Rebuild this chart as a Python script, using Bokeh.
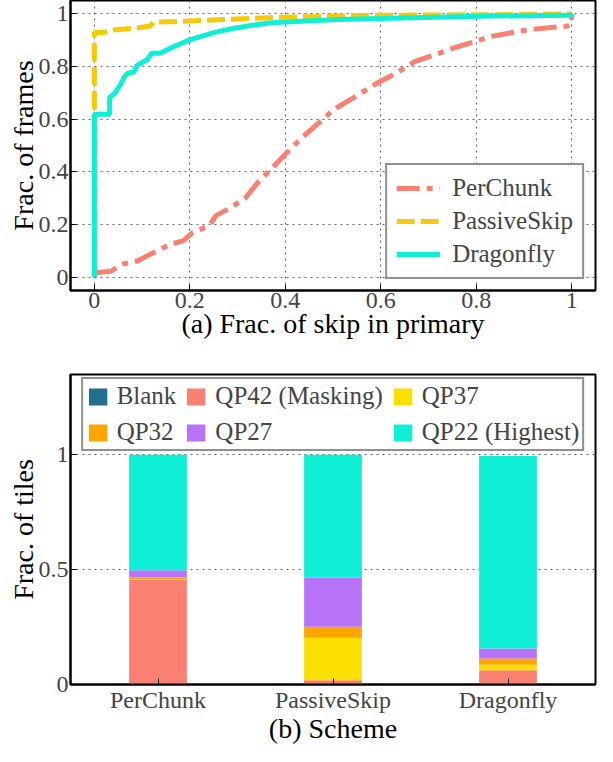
from bokeh.plotting import figure
from bokeh.models import Legend, LegendItem, FactorRange, Range1d, FixedTicker
from bokeh.layouts import column
from bokeh.embed import file_html
from bokeh.resources import INLINE

FONT = "Liberation Serif"

# ---- (a) CDF of fraction of skip in primary ----
perchunk_x = [0.0, 0.035, 0.056, 0.09, 0.117, 0.159, 0.186, 0.206, 0.241, 0.255, 0.282, 0.316,
              0.344, 0.365, 0.399, 0.431, 0.471, 0.503, 0.551, 0.591, 0.631, 0.671, 0.752,
              0.832, 0.912, 0.992, 1.0, 1.0]
perchunk_y = [0.017, 0.023, 0.049, 0.062, 0.087, 0.126, 0.138, 0.17, 0.196, 0.235, 0.26, 0.30,
              0.363, 0.401, 0.465, 0.523, 0.587, 0.638, 0.69, 0.735, 0.773, 0.818, 0.869,
              0.914, 0.94, 0.953, 0.96, 0.99]

passive_x = [0.0, 0.0, 0.021, 0.035, 0.09, 0.117, 0.124, 0.2, 0.365, 0.43, 0.59, 0.83, 1.0]
passive_y = [0.0, 0.929, 0.929, 0.937, 0.946, 0.953, 0.968, 0.972, 0.985, 0.988, 0.994, 0.996, 0.999]

dragon_x = [0.0, 0.0, 0.032, 0.032, 0.042, 0.056, 0.063, 0.069, 0.083, 0.09, 0.11, 0.12, 0.138,
            0.159, 0.2, 0.248, 0.296, 0.365, 0.4, 0.51, 0.67, 0.83, 1.0, 1.0]
dragon_y = [0.0, 0.619, 0.619, 0.683, 0.696, 0.735, 0.76, 0.773, 0.779, 0.805, 0.824, 0.85, 0.85,
            0.869, 0.901, 0.927, 0.946, 0.965, 0.968, 0.978, 0.985, 0.991, 0.994, 1.0]

cdf_ticks = [0, 0.2, 0.4, 0.6, 0.8, 1]
cdf_tick_labels = ["0", "0.2", "0.4", "0.6", "0.8", "1"]

# ---- (b) Stacked fraction of tiles ----
schemes = ["PerChunk", "PassiveSkip", "Dragonfly"]
levels = ["Blank", "QP42", "QP37", "QP32", "QP27", "QP22"]
level_labels = ["Blank", "QP42 (Masking)", "QP37", "QP32", "QP27", "QP22 (Highest)"]
blank = [0.0, 0.0, 0.0]
qp42 = [0.455, 0.019, 0.062]
qp37 = [0.004, 0.185, 0.024]
qp32 = [0.008, 0.047, 0.027]
qp27 = [0.030, 0.215, 0.044]
qp22 = [0.503, 0.534, 0.838]
level_colors = ["#226E8C", "#FA8072", "#F9E000", "#FFA500", "#B973F8", "#0FEFD6"]
bar_ticks = [0, 0.5, 1]
bar_tick_labels = ["0", "0.5", "1"]

TICK_SIZE = "24px"
LABEL_SIZE = "28px"
LEGEND_SIZE = "25px"


def style_axes(p):
    for ax in (p.xaxis[0], p.yaxis[0]):
        ax.major_label_text_font = FONT
        ax.major_label_text_font_size = TICK_SIZE
        ax.axis_label_text_font = FONT
        ax.axis_label_text_font_size = LABEL_SIZE
        ax.axis_label_text_font_style = "normal"
        ax.axis_label_text_color = "black"
        ax.axis_line_color = "black"
        ax.axis_line_width = 2
        ax.major_tick_in = 6
        ax.major_tick_out = 0
        ax.major_tick_line_color = "black"
        ax.minor_tick_line_color = None
        ax.major_label_standoff = 2
        ax.axis_label_standoff = -3
    p.outline_line_color = "black"
    p.outline_line_width = 2
    p.outline_line_alpha = 1.0


p1 = figure(width=597, height=346, x_range=Range1d(-0.05, 1.05), y_range=Range1d(-0.05, 1.05),
            output_backend="svg", toolbar_location=None,
            min_border_top=0, min_border_left=70, min_border_right=2, min_border_bottom=56)
style_axes(p1)
p1.xaxis.axis_label = "(a) Frac. of skip in primary"
p1.yaxis.axis_label = "Frac. of frames"
p1.xaxis.ticker = FixedTicker(ticks=cdf_ticks)
p1.yaxis.ticker = FixedTicker(ticks=cdf_ticks)
p1.xaxis.major_label_overrides = {t: l for t, l in zip(cdf_ticks, cdf_tick_labels)}
p1.yaxis.major_label_overrides = {t: l for t, l in zip(cdf_ticks, cdf_tick_labels)}
for g in (p1.xgrid[0], p1.ygrid[0]):
    g.grid_line_color = "#666666"
    g.grid_line_dash = "2 4"
    g.grid_line_width = 1

r_pc = p1.line(perchunk_x, perchunk_y, line_color="#FA8072", line_width=5, line_dash="23 7 6 7")
r_ps = p1.line(passive_x, passive_y, line_color="#F7C90A", line_width=5, line_dash="18 6")
r_df = p1.line(dragon_x, dragon_y, line_color="#0FEFD6", line_width=5)

leg1 = Legend(items=[LegendItem(label="PerChunk", renderers=[r_pc]),
                     LegendItem(label="PassiveSkip", renderers=[r_ps]),
                     LegendItem(label="Dragonfly", renderers=[r_df])],
              location="bottom_right", margin=11,
              label_text_font=FONT, label_text_font_size=LEGEND_SIZE)
leg1.glyph_width = 44
leg1.glyph_height = 20
leg1.label_standoff = 12
leg1.spacing = 5
leg1.padding = 9
leg1.border_line_color = "#222222"
leg1.border_line_width = 2
leg1.background_fill_alpha = 1.0
p1.add_layout(leg1)

p2 = figure(width=597, height=400, x_range=FactorRange(factors=schemes, range_padding=0),
            y_range=Range1d(0, 1.35), output_backend="svg", toolbar_location=None,
            min_border_top=28, min_border_left=68, min_border_right=2, min_border_bottom=56)
style_axes(p2)
p2.xaxis.axis_label = "(b) Scheme"
p2.yaxis.axis_label = "Frac. of tiles"
p2.yaxis.ticker = FixedTicker(ticks=bar_ticks)
p2.yaxis.major_label_overrides = {t: l for t, l in zip(bar_ticks, bar_tick_labels)}
p2.xgrid.grid_line_color = None
p2.ygrid.grid_line_color = "#666666"
p2.ygrid.grid_line_dash = "2 4"
p2.ygrid.grid_line_width = 1

data = {"scheme": schemes, "Blank": blank, "QP42": qp42, "QP37": qp37,
        "QP32": qp32, "QP27": qp27, "QP22": qp22}
rs = p2.vbar_stack(levels, x="scheme", width=0.33, color=level_colors, source=data,
                   line_color=None)

leg2 = Legend(items=[LegendItem(label=l, renderers=[r]) for l, r in zip(level_labels, rs)],
              location="top_center", margin=3, ncols=3, orientation="horizontal",
              label_text_font=FONT, label_text_font_size=LEGEND_SIZE)
leg2.glyph_width = 23
leg2.glyph_height = 21
leg2.label_standoff = 8
leg2.spacing = 8
leg2.padding = 3
leg2.border_line_color = "#222222"
leg2.border_line_width = 2
leg2.background_fill_alpha = 1.0
p2.add_layout(leg2)

layout = column(p1, p2, spacing=0)
open("out.html", "w").write(file_html(layout, INLINE))
